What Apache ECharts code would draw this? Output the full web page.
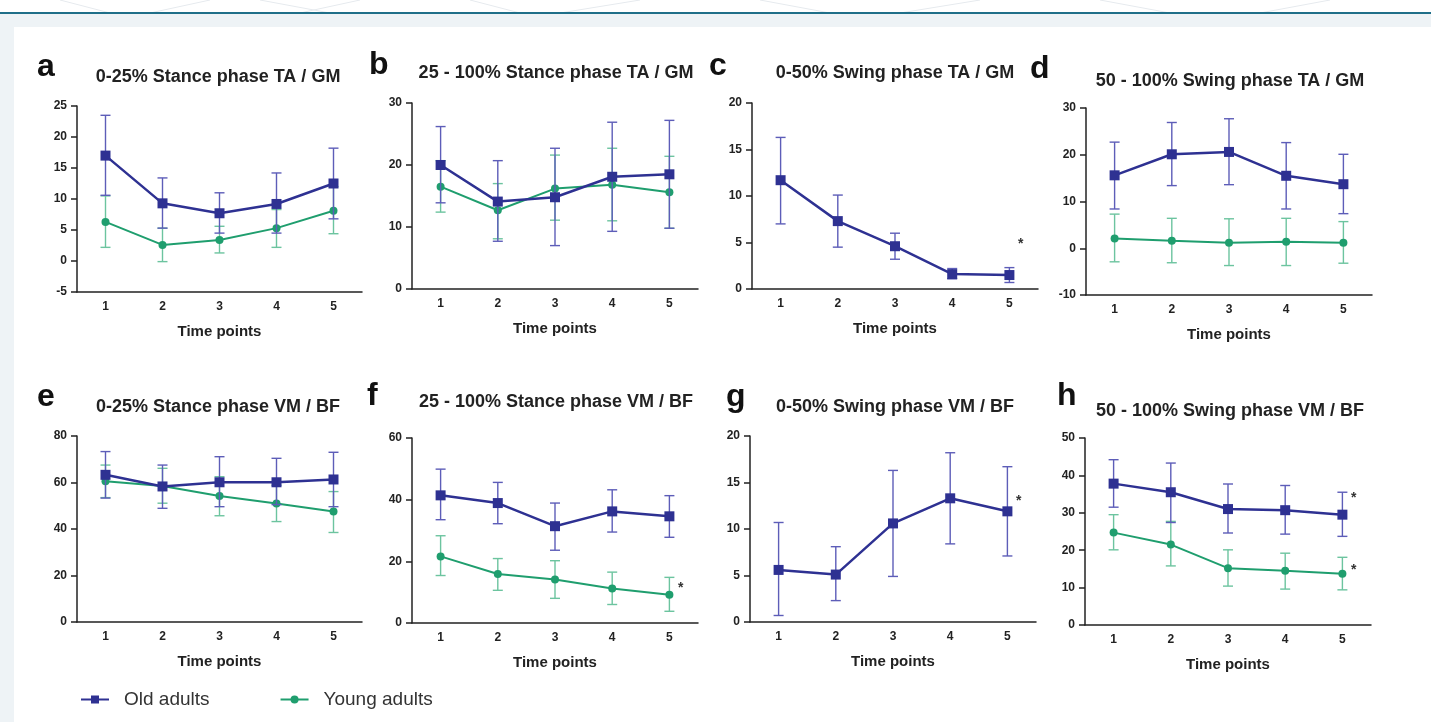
<!DOCTYPE html>
<html><head><meta charset="utf-8">
<script src="https://cdn.jsdelivr.net/npm/echarts@6/dist/echarts.min.js"></script>
<style>html,body{margin:0;padding:0;background:#fff;overflow:hidden}#c{width:1431px;height:722px}</style>
</head><body><div id="c"></div>
<script>
// ---------- DATA ----------
const timePoints = ['1', '2', '3', '4', '5'];
const panelLetters = ['a', 'b', 'c', 'd', 'e', 'f', 'g', 'h'];
const panelTitles = [
  '0-25% Stance phase TA / GM', '25 - 100% Stance phase TA / GM',
  '0-50% Swing phase TA / GM', '50 - 100% Swing phase TA / GM',
  '0-25% Stance phase VM / BF', '25 - 100% Stance phase VM / BF',
  '0-50% Swing phase VM / BF', '50 - 100% Swing phase VM / BF'
];
const xAxisName = 'Time points';
const seriesNames = ['Old adults', 'Young adults'];
const yMin = [-5, 0, 0, -10, 0, 0, 0, 0];
const yMax = [25, 30, 20, 30, 80, 60, 20, 50];
const yStep = [5, 10, 5, 10, 20, 20, 5, 10];

const oldMean = [
  [17.0, 9.3, 7.7, 9.2, 12.5],
  [20.0, 14.1, 14.8, 18.1, 18.5],
  [11.7, 7.3, 4.6, 1.6, 1.5],
  [15.6, 20.1, 20.6, 15.5, 13.7],
  [63.3, 58.3, 60.1, 60.1, 61.3],
  [41.4, 38.9, 31.4, 36.2, 34.6],
  [5.6, 5.1, 10.6, 13.3, 11.9],
  [37.8, 35.5, 31.0, 30.7, 29.5]
];
const oldUpper = [
  [23.5, 13.4, 11.0, 14.2, 18.2],
  [26.2, 20.7, 22.7, 26.9, 27.2],
  [16.3, 10.1, 6.0, 2.2, 2.3],
  [22.7, 26.9, 27.7, 22.6, 20.1],
  [73.3, 67.5, 71.1, 70.4, 73.0],
  [49.9, 45.6, 38.9, 43.2, 41.3],
  [10.7, 8.1, 16.3, 18.2, 16.7],
  [44.2, 43.3, 37.7, 37.3, 35.5]
];
const oldLower = [
  [10.6, 5.3, 4.5, 4.5, 6.8],
  [13.9, 7.7, 7.0, 9.3, 9.8],
  [7.0, 4.5, 3.2, 1.1, 0.7],
  [8.4, 13.4, 13.6, 8.4, 7.4],
  [53.3, 48.9, 49.6, 50.5, 49.6],
  [33.5, 32.2, 23.6, 29.5, 27.8],
  [0.7, 2.3, 4.9, 8.4, 7.1],
  [31.5, 27.4, 24.6, 24.3, 23.7]
];
const youngMean = [
  [6.3, 2.6, 3.4, 5.3, 8.1],
  [16.5, 12.7, 16.2, 16.8, 15.6],
  null,
  [2.1, 1.6, 1.2, 1.4, 1.2],
  [60.5, 58.5, 54.2, 51.0, 47.5],
  [21.6, 15.9, 14.1, 11.2, 9.2],
  null,
  [24.7, 21.5, 15.2, 14.5, 13.7]
];
const youngUpper = [
  [10.5, 5.3, 5.6, 8.3, 12.0],
  [20.7, 17.0, 21.6, 22.7, 21.4],
  null,
  [7.3, 6.4, 6.3, 6.4, 5.7],
  [67.5, 66.1, 62.5, 58.8, 56.1],
  [28.3, 20.9, 20.2, 16.5, 14.8],
  null,
  [29.5, 27.7, 20.1, 19.2, 18.1]
];
const youngLower = [
  [2.2, -0.1, 1.3, 2.2, 4.4],
  [12.4, 8.1, 11.1, 11.0, 9.8],
  null,
  [-2.9, -3.1, -3.7, -3.7, -3.2],
  [53.5, 51.1, 45.7, 43.2, 38.5],
  [15.4, 10.6, 8.0, 6.0, 3.8],
  null,
  [20.1, 15.8, 10.4, 9.6, 9.4]
];
// significance asterisks: panel index, time point position, value
const asteriskPanel = [2, 5, 6, 7, 7];
const asteriskX = [5.2, 5.2, 5.2, 5.2, 5.2];
const asteriskY = [5.1, 12.4, 13.3, 34.8, 15.6];

// ---------- LAYOUT / STYLE ----------
const gridLeft = [77, 412, 752, 1086, 77, 412, 750, 1085];
const gridTop = [106, 103, 103, 108, 436, 438, 436, 438];
const gridH = [186, 186, 186, 187, 186, 185, 186, 187];
const gridW = [285, 286, 286, 286, 285, 286, 286, 286];
const titleX = [218, 556, 895, 1230, 218, 556, 895, 1230];
const titleY = [77, 73, 73, 81, 407, 402, 407, 411];
const letterX = [37, 369, 709, 1030, 37, 367, 726, 1057];
const letterMid = [67, 65, 66, 69, 397, 396, 397, 396];

const FONT = '"Liberation Sans", Arial, sans-serif';
const OLD_C = '#2e3192', OLD_ERR = '#5d5db8';
const YNG_C = '#1f9e6e', YNG_ERR = '#6cc49f';
const AX_C = '#222';

const chart = echarts.init(document.getElementById('c'), null, {renderer: 'canvas'});

const grids = [], xAxes = [], yAxes = [], series = [], graphics = [];

// page decoration
graphics.push({type: 'rect', silent: true, z: -10, shape: {x: 0, y: 0, width: 1431, height: 722}, style: {fill: '#fff'}});
[[60, 0, 110, 13], [150, 13, 210, 0], [260, 0, 330, 13], [300, 13, 360, 0], [470, 0, 520, 13], [560, 13, 640, 0], [760, 0, 830, 13], [900, 13, 980, 0], [1100, 0, 1170, 13], [1260, 13, 1330, 0]].forEach(l => {
  graphics.push({type: 'line', silent: true, z: -9, shape: {x1: l[0], y1: l[1], x2: l[2], y2: l[3]}, style: {stroke: '#e6eaee', lineWidth: 1}});
});
graphics.push({type: 'rect', silent: true, z: -9, shape: {x: 0, y: 14, width: 1431, height: 13}, style: {fill: '#eef3f6'}});
graphics.push({type: 'rect', silent: true, z: -9, shape: {x: 0, y: 14, width: 14, height: 708}, style: {fill: '#eef3f6'}});
graphics.push({type: 'line', silent: true, z: -8, shape: {x1: 0, y1: 13, x2: 1431, y2: 13}, style: {stroke: '#1f6f89', lineWidth: 2}});

function errorRender(color) {
  return function (params, api) {
    const x = api.value(0), lo = api.value(1), hi = api.value(2);
    const a = api.coord([x, hi]), b = api.coord([x, lo]);
    const cap = 5;
    const st = {stroke: color, lineWidth: 1.4};
    return {type: 'group', children: [
      {type: 'line', shape: {x1: a[0], y1: a[1], x2: b[0], y2: b[1]}, style: st},
      {type: 'line', shape: {x1: a[0] - cap, y1: a[1], x2: a[0] + cap, y2: a[1]}, style: st},
      {type: 'line', shape: {x1: b[0] - cap, y1: b[1], x2: b[0] + cap, y2: b[1]}, style: st}
    ]};
  };
}

for (let i = 0; i < 8; i++) {
  grids.push({left: gridLeft[i], top: gridTop[i], width: gridW[i], height: gridH[i], containLabel: false});
  xAxes.push({
    type: 'category', gridIndex: i, data: timePoints, boundaryGap: true,
    name: xAxisName, nameLocation: 'middle', nameGap: 32,
    nameTextStyle: {fontFamily: FONT, fontWeight: 'bold', fontSize: 15, color: AX_C},
    axisLine: {onZero: false, lineStyle: {color: AX_C, width: 1.5}},
    axisTick: {alignWithLabel: true, length: 6, lineStyle: {color: AX_C, width: 1.5}},
    axisLabel: {margin: 9, fontFamily: FONT, fontWeight: 'bold', fontSize: 12, color: AX_C},
    splitLine: {show: false}
  });
  yAxes.push({
    type: 'value', gridIndex: i, min: yMin[i], max: yMax[i], interval: yStep[i],
    axisLine: {show: true, lineStyle: {color: AX_C, width: 1.5}},
    axisTick: {show: true, length: 6, lineStyle: {color: AX_C, width: 1.5}},
    axisLabel: {margin: 10, fontFamily: FONT, fontWeight: 'bold', fontSize: 12, color: AX_C},
    splitLine: {show: false}
  });
  graphics.push({type: 'text', silent: true, style: {x: titleX[i], y: titleY[i], text: panelTitles[i], align: 'center', verticalAlign: 'middle', font: 'bold 18px ' + FONT, fill: '#222'}});
  graphics.push({type: 'text', silent: true, style: {x: letterX[i], y: letterMid[i], text: panelLetters[i], align: 'left', verticalAlign: 'middle', font: 'bold 32px ' + FONT, fill: '#111'}});

  if (youngMean[i]) {
    series.push({
      type: 'custom', name: 'young-sd-' + i, xAxisIndex: i, yAxisIndex: i, z: 2,
      renderItem: errorRender(YNG_ERR), encode: {x: 0, y: [1, 2]},
      data: youngMean[i].map((v, k) => [k, youngLower[i][k], youngUpper[i][k]])
    });
    series.push({
      type: 'line', name: seriesNames[1], xAxisIndex: i, yAxisIndex: i, z: 3,
      data: youngMean[i], symbol: 'circle', symbolSize: 8, showAllSymbol: true,
      lineStyle: {color: YNG_C, width: 2}, itemStyle: {color: YNG_C}, animation: false
    });
  }
  series.push({
    type: 'custom', name: 'old-sd-' + i, xAxisIndex: i, yAxisIndex: i, z: 4,
    renderItem: errorRender(OLD_ERR), encode: {x: 0, y: [1, 2]},
    data: oldMean[i].map((v, k) => [k, oldLower[i][k], oldUpper[i][k]])
  });
  series.push({
    type: 'line', name: seriesNames[0], xAxisIndex: i, yAxisIndex: i, z: 5,
    data: oldMean[i], symbol: 'rect', symbolSize: 10, showAllSymbol: true,
    lineStyle: {color: OLD_C, width: 2.5}, itemStyle: {color: OLD_C}, animation: false
  });
}

// asterisks
for (let p = 0; p < 8; p++) {
  const pts = [];
  asteriskPanel.forEach((ap, j) => { if (ap === p) pts.push([asteriskX[j] - 1, asteriskY[j]]); });
  if (!pts.length) continue;
  series.push({
    type: 'custom', name: 'sig-' + p, xAxisIndex: p, yAxisIndex: p, z: 6,
    encode: {x: 0, y: 1}, data: pts,
    renderItem: function (params, api) {
      const xv = api.value(0), base = Math.floor(xv), frac = xv - base;
      const pt = api.coord([base, api.value(1)]);
      const bw = api.size([1, 0])[0];
      return {type: 'text', style: {x: pt[0] + frac * bw, y: pt[1] + 3, text: '*', align: 'center', verticalAlign: 'middle', font: 'bold 14px ' + FONT, fill: '#333'}};
    }
  });
}

chart.setOption({
  animation: false,
  backgroundColor: 'transparent',
  graphic: graphics,
  grid: grids,
  xAxis: xAxes,
  yAxis: yAxes,
  legend: {
    data: seriesNames, left: 80, top: 690, padding: 0, itemGap: 70,
    itemWidth: 28, itemHeight: 10, selectedMode: false,
    textStyle: {fontFamily: FONT, fontSize: 19, color: '#333', padding: [0, 0, 0, 10]}
  },
  series: series
});
</script></body></html>
